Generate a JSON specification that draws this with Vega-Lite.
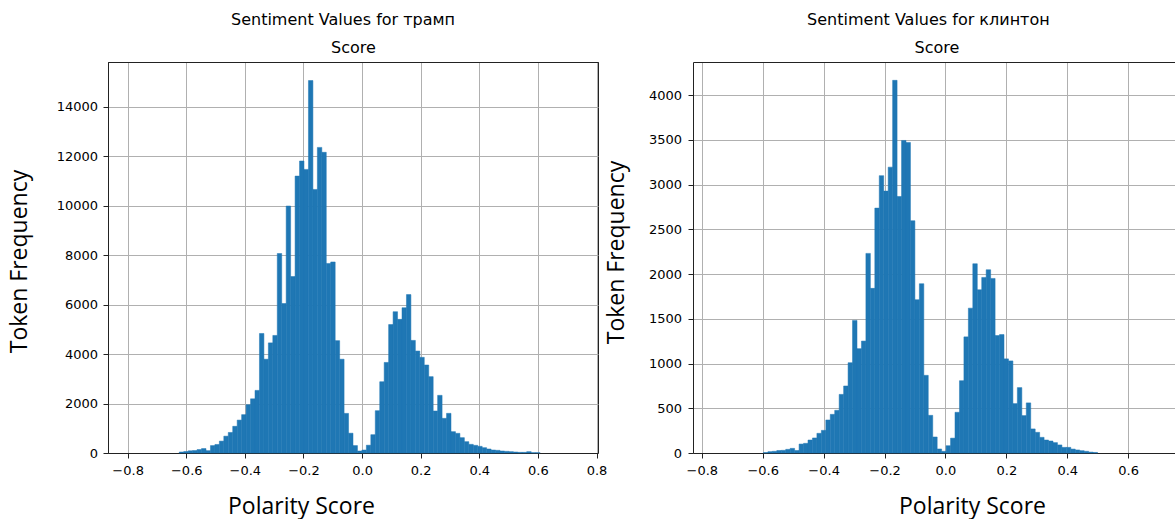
{
  "$schema": "https://vega.github.io/schema/vega-lite/v6.json",
  "padding": {"left": 7, "top": 11, "right": 0, "bottom": 0},
  "bounds": "flush",
  "spacing": 95,
  "background": "white",
  "resolve": {"scale": {"x": "independent", "y": "independent"}},
  "config": {
    "font": "DejaVu Sans",
    "view": {"stroke": "#222"},
    "axis": {"labelFont": "DejaVu Sans", "labelFontSize": 13, "labelColor": "#000", "tickColor": "#222", "tickSize": 5, "domainColor": "#222", "gridColor": "#b0b0b0", "gridWidth": 1, "titleFont": "Open Sans", "titleFontSize": 23, "titleFontWeight": "normal", "titleColor": "#000", "zindex": 1},
    "title": {"font": "DejaVu Sans", "fontSize": 16, "fontWeight": "normal", "color": "#000"}
  },
  "datasets": {
    "trump": [
      {"x0": -0.6238, "x1": -0.6086, "count": 40},
      {"x0": -0.6086, "x1": -0.5934, "count": 60},
      {"x0": -0.5934, "x1": -0.5782, "count": 90},
      {"x0": -0.5782, "x1": -0.563, "count": 100},
      {"x0": -0.563, "x1": -0.5478, "count": 140},
      {"x0": -0.5478, "x1": -0.5326, "count": 180},
      {"x0": -0.5326, "x1": -0.5174, "count": 95},
      {"x0": -0.5174, "x1": -0.5022, "count": 300},
      {"x0": -0.5022, "x1": -0.487, "count": 345},
      {"x0": -0.487, "x1": -0.4718, "count": 480},
      {"x0": -0.4718, "x1": -0.4566, "count": 680},
      {"x0": -0.4566, "x1": -0.4414, "count": 830},
      {"x0": -0.4414, "x1": -0.4262, "count": 1078},
      {"x0": -0.4262, "x1": -0.411, "count": 1330},
      {"x0": -0.411, "x1": -0.3958, "count": 1550},
      {"x0": -0.3958, "x1": -0.3806, "count": 1950},
      {"x0": -0.3806, "x1": -0.3654, "count": 2190},
      {"x0": -0.3654, "x1": -0.3502, "count": 2530},
      {"x0": -0.3502, "x1": -0.335, "count": 4830},
      {"x0": -0.335, "x1": -0.3198, "count": 3790},
      {"x0": -0.3198, "x1": -0.3046, "count": 4450},
      {"x0": -0.3046, "x1": -0.2894, "count": 4750},
      {"x0": -0.2894, "x1": -0.2742, "count": 8060},
      {"x0": -0.2742, "x1": -0.259, "count": 6040},
      {"x0": -0.259, "x1": -0.2438, "count": 9980},
      {"x0": -0.2438, "x1": -0.2286, "count": 7130},
      {"x0": -0.2286, "x1": -0.2134, "count": 11190},
      {"x0": -0.2134, "x1": -0.1982, "count": 11800},
      {"x0": -0.1982, "x1": -0.183, "count": 11460},
      {"x0": -0.183, "x1": -0.1678, "count": 15050},
      {"x0": -0.1678, "x1": -0.1526, "count": 10650},
      {"x0": -0.1526, "x1": -0.1374, "count": 12350},
      {"x0": -0.1374, "x1": -0.1222, "count": 12150},
      {"x0": -0.1222, "x1": -0.107, "count": 7660},
      {"x0": -0.107, "x1": -0.0918, "count": 7720},
      {"x0": -0.0918, "x1": -0.0766, "count": 4540},
      {"x0": -0.0766, "x1": -0.0614, "count": 3790},
      {"x0": -0.0614, "x1": -0.0462, "count": 1600},
      {"x0": -0.0462, "x1": -0.031, "count": 800},
      {"x0": -0.031, "x1": -0.0158, "count": 300},
      {"x0": -0.0158, "x1": -0.0006, "count": 80},
      {"x0": -0.0006, "x1": 0.0146, "count": 120},
      {"x0": 0.0146, "x1": 0.0298, "count": 315},
      {"x0": 0.0298, "x1": 0.045, "count": 740},
      {"x0": 0.045, "x1": 0.0602, "count": 1710},
      {"x0": 0.0602, "x1": 0.0754, "count": 2880},
      {"x0": 0.0754, "x1": 0.0906, "count": 3660},
      {"x0": 0.0906, "x1": 0.1058, "count": 5190},
      {"x0": 0.1058, "x1": 0.121, "count": 5710},
      {"x0": 0.121, "x1": 0.1362, "count": 5400},
      {"x0": 0.1362, "x1": 0.1514, "count": 5870},
      {"x0": 0.1514, "x1": 0.1666, "count": 6400},
      {"x0": 0.1666, "x1": 0.1818, "count": 4550},
      {"x0": 0.1818, "x1": 0.197, "count": 4120},
      {"x0": 0.197, "x1": 0.2122, "count": 3866},
      {"x0": 0.2122, "x1": 0.2274, "count": 3556},
      {"x0": 0.2274, "x1": 0.2426, "count": 3085},
      {"x0": 0.2426, "x1": 0.2578, "count": 1697},
      {"x0": 0.2578, "x1": 0.273, "count": 2330},
      {"x0": 0.273, "x1": 0.2882, "count": 1401},
      {"x0": 0.2882, "x1": 0.3034, "count": 1603},
      {"x0": 0.3034, "x1": 0.3186, "count": 862},
      {"x0": 0.3186, "x1": 0.3338, "count": 795},
      {"x0": 0.3338, "x1": 0.349, "count": 620},
      {"x0": 0.349, "x1": 0.3642, "count": 458},
      {"x0": 0.3642, "x1": 0.3794, "count": 350},
      {"x0": 0.3794, "x1": 0.3946, "count": 310},
      {"x0": 0.3946, "x1": 0.4098, "count": 269},
      {"x0": 0.4098, "x1": 0.425, "count": 215},
      {"x0": 0.425, "x1": 0.4402, "count": 162},
      {"x0": 0.4402, "x1": 0.4554, "count": 121},
      {"x0": 0.4554, "x1": 0.4706, "count": 108},
      {"x0": 0.4706, "x1": 0.4858, "count": 81},
      {"x0": 0.4858, "x1": 0.501, "count": 67},
      {"x0": 0.501, "x1": 0.5162, "count": 54},
      {"x0": 0.5162, "x1": 0.5314, "count": 40},
      {"x0": 0.5314, "x1": 0.5466, "count": 27},
      {"x0": 0.5466, "x1": 0.5618, "count": 27},
      {"x0": 0.5618, "x1": 0.577, "count": 54},
      {"x0": 0.577, "x1": 0.5922, "count": 13},
      {"x0": 0.5922, "x1": 0.6074, "count": 13}
    ],
    "clinton": [
      {"x0": -0.5977, "x1": -0.5830, "count": 5},
      {"x0": -0.5830, "x1": -0.5684, "count": 15},
      {"x0": -0.5684, "x1": -0.5538, "count": 19},
      {"x0": -0.5538, "x1": -0.5391, "count": 28},
      {"x0": -0.5391, "x1": -0.5245, "count": 30},
      {"x0": -0.5245, "x1": -0.5099, "count": 41},
      {"x0": -0.5099, "x1": -0.4953, "count": 52},
      {"x0": -0.4953, "x1": -0.4806, "count": 28},
      {"x0": -0.4806, "x1": -0.4660, "count": 100},
      {"x0": -0.4660, "x1": -0.4514, "count": 108},
      {"x0": -0.4514, "x1": -0.4367, "count": 145},
      {"x0": -0.4367, "x1": -0.4221, "count": 168},
      {"x0": -0.4221, "x1": -0.4075, "count": 220},
      {"x0": -0.4075, "x1": -0.3928, "count": 253},
      {"x0": -0.3928, "x1": -0.3782, "count": 369},
      {"x0": -0.3782, "x1": -0.3636, "count": 432},
      {"x0": -0.3636, "x1": -0.3490, "count": 477},
      {"x0": -0.3490, "x1": -0.3343, "count": 655},
      {"x0": -0.3343, "x1": -0.3197, "count": 749},
      {"x0": -0.3197, "x1": -0.3051, "count": 1009},
      {"x0": -0.3051, "x1": -0.2904, "count": 1482},
      {"x0": -0.2904, "x1": -0.2758, "count": 1166},
      {"x0": -0.2758, "x1": -0.2612, "count": 1251},
      {"x0": -0.2612, "x1": -0.2465, "count": 2231},
      {"x0": -0.2465, "x1": -0.2319, "count": 1840},
      {"x0": -0.2319, "x1": -0.2173, "count": 2737},
      {"x0": -0.2173, "x1": -0.2027, "count": 3100},
      {"x0": -0.2027, "x1": -0.1880, "count": 2927},
      {"x0": -0.1880, "x1": -0.1734, "count": 3195},
      {"x0": -0.1734, "x1": -0.1588, "count": 4165},
      {"x0": -0.1588, "x1": -0.1441, "count": 2867},
      {"x0": -0.1441, "x1": -0.1295, "count": 3493},
      {"x0": -0.1295, "x1": -0.1149, "count": 3471},
      {"x0": -0.1149, "x1": -0.1003, "count": 2596},
      {"x0": -0.1003, "x1": -0.0856, "count": 1713},
      {"x0": -0.0856, "x1": -0.0710, "count": 1892},
      {"x0": -0.0710, "x1": -0.0564, "count": 868},
      {"x0": -0.0564, "x1": -0.0417, "count": 421},
      {"x0": -0.0417, "x1": -0.0271, "count": 179},
      {"x0": -0.0271, "x1": -0.0125, "count": 45},
      {"x0": -0.0125, "x1": 0.0022, "count": 19},
      {"x0": 0.0022, "x1": 0.0168, "count": 82},
      {"x0": 0.0168, "x1": 0.0314, "count": 166},
      {"x0": 0.0314, "x1": 0.0461, "count": 455},
      {"x0": 0.0461, "x1": 0.0607, "count": 808},
      {"x0": 0.0607, "x1": 0.0753, "count": 1298},
      {"x0": 0.0753, "x1": 0.0899, "count": 1619},
      {"x0": 0.0899, "x1": 0.1046, "count": 2115},
      {"x0": 0.1046, "x1": 0.1192, "count": 1824},
      {"x0": 0.1192, "x1": 0.1338, "count": 1962},
      {"x0": 0.1338, "x1": 0.1485, "count": 2048},
      {"x0": 0.1485, "x1": 0.1631, "count": 1951},
      {"x0": 0.1631, "x1": 0.1777, "count": 1313},
      {"x0": 0.1777, "x1": 0.1924, "count": 1324},
      {"x0": 0.1924, "x1": 0.2070, "count": 1052},
      {"x0": 0.2070, "x1": 0.2216, "count": 1029},
      {"x0": 0.2216, "x1": 0.2362, "count": 552},
      {"x0": 0.2362, "x1": 0.2509, "count": 731},
      {"x0": 0.2509, "x1": 0.2655, "count": 418},
      {"x0": 0.2655, "x1": 0.2801, "count": 560},
      {"x0": 0.2801, "x1": 0.2948, "count": 269},
      {"x0": 0.2948, "x1": 0.3094, "count": 231},
      {"x0": 0.3094, "x1": 0.3240, "count": 175},
      {"x0": 0.3240, "x1": 0.3387, "count": 145},
      {"x0": 0.3387, "x1": 0.3533, "count": 134},
      {"x0": 0.3533, "x1": 0.3679, "count": 116},
      {"x0": 0.3679, "x1": 0.3825, "count": 90},
      {"x0": 0.3825, "x1": 0.3972, "count": 63},
      {"x0": 0.3972, "x1": 0.4118, "count": 63},
      {"x0": 0.4118, "x1": 0.4264, "count": 44},
      {"x0": 0.4264, "x1": 0.4411, "count": 34},
      {"x0": 0.4411, "x1": 0.4557, "count": 26},
      {"x0": 0.4557, "x1": 0.4703, "count": 19},
      {"x0": 0.4703, "x1": 0.4850, "count": 10},
      {"x0": 0.4850, "x1": 0.4996, "count": 6}
    ]
  },
  "hconcat": [
    {
      "width": 490,
      "height": 391,
      "title": {"text": "Sentiment Values for трамп", "frame": "group", "anchor": "middle", "dx": -10, "offset": 12},
      "data": {"name": "trump"},
      "resolve": {"axis": {"x": "independent"}},
      "layer": [
        {
          "mark": {"type": "rect", "color": "#1f77b4", "stroke": "#1f77b4", "strokeWidth": 0.5},
          "encoding": {
            "x": {"field": "x0", "type": "quantitative", "scale": {"domain": [-0.867, 0.805], "nice": false, "zero": false},
                  "axis": {"orient": "bottom", "values": [-0.8, -0.6, -0.4, -0.2, 0, 0.2, 0.4, 0.6, 0.8], "format": ".1f", "labelPadding": 6.5,
                           "title": "Polarity Score", "titleX": 193, "titleY": 60, "titleAlign": "center", "titleBaseline": "alphabetic"}},
            "x2": {"field": "x1"},
            "y": {"field": "count", "type": "quantitative", "scale": {"domain": [0, 15800], "nice": false},
                  "axis": {"values": [0, 2000, 4000, 6000, 8000, 10000, 12000, 14000], "format": "d", "labelPadding": 5.5,
                           "title": "Token Frequency", "titleX": -82, "titleY": 199, "titleAlign": "center", "titleBaseline": "alphabetic"}},
            "y2": {"datum": 0}
          }
        },
        {
          "mark": {"type": "rect", "opacity": 0},
          "encoding": {
            "x": {"field": "x0", "type": "quantitative",
                  "axis": {"orient": "top", "labels": false, "ticks": false, "grid": false, "domain": true,
                           "title": "Score", "titleFont": "DejaVu Sans", "titleFontSize": 16, "titleX": 245, "titleY": -9.5, "titleAlign": "center", "titleBaseline": "alphabetic"}},
            "x2": {"field": "x1"}
          }
        }
      ]
    },
    {
      "width": 482,
      "height": 391,
      "view": {"stroke": null},
      "title": {"text": "Sentiment Values for клинтон", "frame": "group", "anchor": "middle", "dx": -5.6, "offset": 12},
      "data": {"name": "clinton"},
      "resolve": {"axis": {"x": "independent"}},
      "layer": [
        {
          "mark": {"type": "rect", "color": "#1f77b4", "stroke": "#1f77b4", "strokeWidth": 0.5},
          "encoding": {
            "x": {"field": "x0", "type": "quantitative", "scale": {"domain": [-0.829, 0.7539], "nice": false, "zero": false},
                  "axis": {"orient": "bottom", "values": [-0.8, -0.6, -0.4, -0.2, 0, 0.2, 0.4, 0.6], "format": ".1f", "labelPadding": 6.5,
                           "title": "Polarity Score", "titleX": 279, "titleY": 60, "titleAlign": "center", "titleBaseline": "alphabetic"}},
            "x2": {"field": "x1"},
            "y": {"field": "count", "type": "quantitative", "scale": {"domain": [0, 4370], "nice": false},
                  "axis": {"values": [0, 500, 1000, 1500, 2000, 2500, 3000, 3500, 4000], "format": "d", "labelPadding": 6.5,
                           "title": "Token Frequency", "titleX": -70, "titleY": 190, "titleAlign": "center", "titleBaseline": "alphabetic"}},
            "y2": {"datum": 0}
          }
        },
        {
          "mark": {"type": "rect", "opacity": 0},
          "encoding": {
            "x": {"field": "x0", "type": "quantitative",
                  "axis": {"orient": "top", "labels": false, "ticks": false, "grid": false, "domain": true,
                           "title": "Score", "titleFont": "DejaVu Sans", "titleFontSize": 16, "titleX": 243.4, "titleY": -9.5, "titleAlign": "center", "titleBaseline": "alphabetic"}},
            "x2": {"field": "x1"}
          }
        }
      ]
    }
  ]
}
